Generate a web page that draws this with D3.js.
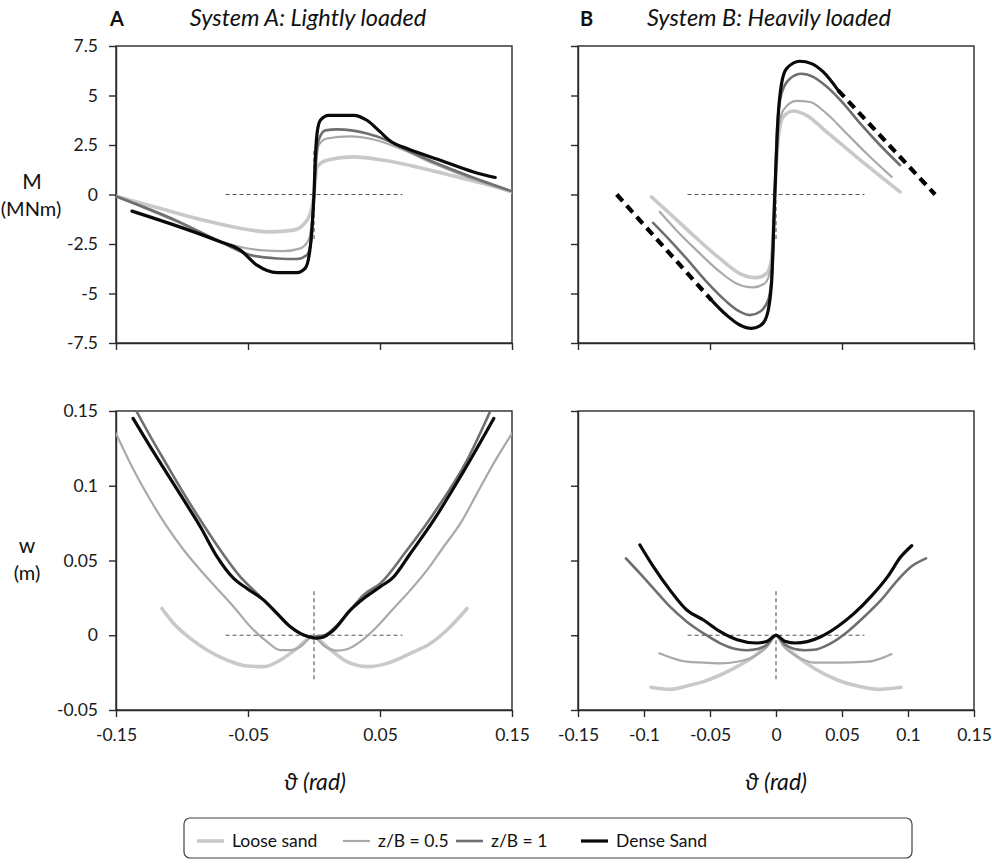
<!DOCTYPE html>
<html><head><meta charset="utf-8">
<script src="https://cdn.jsdelivr.net/npm/d3@7"></script>
<style>
html,body{margin:0;padding:0;background:#fff;}
svg{display:block;font-family:Lato,"Open Sans",sans-serif;}
</style></head>
<body>
<svg id="c" width="992" height="866"></svg>
<script>
// ---------------- DATA ----------------
const seriesNames = ["Loose sand", "z/B = 0.5", "z/B = 1", "Dense Sand"];
const panelTitles = ["System A: Lightly loaded", "System B: Heavily loaded"];
const panelLetters = ["A", "B"];

const mTicks = [-7.5, -5, -2.5, 0, 2.5, 5, 7.5];
const mTickLabels = ["-7.5", "-5", "-2.5", "0", "2.5", "5", "7.5"];
const wTicks = [-0.05, 0, 0.05, 0.1, 0.15];
const wTickLabels = ["-0.05", "0", "0.05", "0.1", "0.15"];
const xTicksA = [-0.15, -0.05, 0.05, 0.15];
const xTickLabelsA = ["-0.15", "-0.05", "0.05", "0.15"];
const xTicksB = [-0.15, -0.1, -0.05, 0, 0.05, 0.1, 0.15];
const xTickLabelsB = ["-0.15", "-0.1", "-0.05", "0", "0.05", "0.1", "0.15"];

// System A : moment M (MNm) vs rotation (rad)
const mA_loose = [[-0.15,-0.09],[-0.1164,-0.71],[-0.0786,-1.38],[-0.0331,-1.89],[-0.0155,-1.8],[-0.0053,-1.3],[-0.0015,-0.62],[0,0],[0.0008,0.6],[0.0023,1.39],[0.0098,1.73],[0.030,1.9],[0.0528,1.73],[0.078,1.39],[0.1033,0.97],[0.1285,0.55],[0.15,0.13]];
const mA_zb05 = [[-0.15,-0.09],[-0.1038,-1.38],[-0.071,-2.36],[-0.0407,-2.81],[-0.023,-2.86],[-0.0104,-2.72],[-0.0041,-2.3],[-0.0015,-1.3],[0,0],[0.0015,1.4],[0.0035,2.49],[0.0098,2.83],[0.0275,2.94],[0.0452,2.78],[0.0654,2.32],[0.0906,1.56],[0.1159,0.89],[0.15,0.15]];
const mA_zb1 = [[-0.15,-0.09],[-0.1038,-1.33],[-0.071,-2.38],[-0.0483,-3.06],[-0.028,-3.23],[-0.0129,-3.26],[-0.0053,-3.06],[-0.002,-2.3],[0,0],[0.0015,1.8],[0.0035,2.74],[0.0086,3.24],[0.0174,3.29],[0.0401,3.08],[0.0553,2.74],[0.0654,2.4],[0.0906,1.64],[0.1159,0.97],[0.15,0.16]];
const mA_dense = [[-0.1379,-0.84],[-0.071,-2.39],[-0.0558,-2.81],[-0.0432,-3.57],[-0.028,-3.95],[-0.0129,-3.95],[-0.0066,-3.72],[-0.0028,-2.64],[-0.0008,-0.95],[0,0],[0.0008,1.5],[0.0023,3.08],[0.0048,3.75],[0.0111,4.0],[0.030,4.0],[0.0401,3.75],[0.0502,3.16],[0.0578,2.7],[0.0705,2.32],[0.0957,1.73],[0.1209,1.14],[0.1373,0.86]];

// System B : moment
const mB_loose = [[-0.0944,-0.12],[-0.0805,-0.96],[-0.0628,-2.05],[-0.0426,-3.23],[-0.0274,-3.99],[-0.0148,-4.2],[-0.0072,-3.99],[-0.0034,-3.31],[-0.0009,0],[0.0016,2.74],[0.0054,3.92],[0.013,4.22],[0.0231,4.0],[0.0383,3.16],[0.0535,2.32],[0.0686,1.48],[0.094,0.13]];
const mB_zb05 = [[-0.0881,-0.87],[-0.0755,-1.8],[-0.0603,-2.81],[-0.0426,-3.9],[-0.03,-4.49],[-0.0173,-4.69],[-0.0085,-4.49],[-0.0042,-3.82],[-0.0009,0],[0.0016,3.08],[0.0054,4.25],[0.0155,4.73],[0.0257,4.67],[0.0383,4.09],[0.0535,3.08],[0.0686,2.07],[0.0876,0.89]];
const mB_zb1 = [[-0.0931,-1.43],[-0.0805,-2.3],[-0.0679,-3.23],[-0.0527,-4.4],[-0.0375,-5.41],[-0.0274,-5.92],[-0.0198,-6.09],[-0.0122,-5.92],[-0.0059,-5.33],[-0.0027,-3.65],[-0.0009,0],[0.0009,3.41],[0.0042,5.1],[0.0105,5.85],[0.0193,6.1],[0.0282,5.94],[0.0383,5.45],[0.051,4.6],[0.0636,3.6],[0.0787,2.5],[0.094,1.48]];
const mB_dense = [[-0.0489,-5.33],[-0.0375,-6.09],[-0.0274,-6.59],[-0.0186,-6.76],[-0.0122,-6.64],[-0.0072,-6.17],[-0.0034,-4.49],[-0.0009,0],[0.0016,3.92],[0.0042,5.6],[0.008,6.36],[0.018,6.73],[0.0269,6.61],[0.0358,6.19],[0.0471,5.26]];
const mB_denseExtLeft = [[-0.1207,0],[-0.0489,-5.33]];
const mB_denseExtRight = [[0.0471,5.26],[0.1205,0]];

// System A : settlement w (m)
const wA_loose = [[-0.1152,0.0179],[-0.1063,0.0079],[-0.0937,-0.0021],[-0.0811,-0.0099],[-0.066,-0.0166],[-0.0508,-0.0206],[-0.0381,-0.021],[-0.0255,-0.0166],[-0.0129,-0.0088],[-0.001,-0.001],[0.0111,-0.0088],[0.025,-0.0177],[0.0401,-0.021],[0.0553,-0.0188],[0.073,-0.0121],[0.0881,-0.0055],[0.1033,0.0057],[0.1159,0.0179]];
const wA_zb05 = [[-0.15,0.135],[-0.1366,0.1105],[-0.124,0.0905],[-0.1114,0.0726],[-0.0987,0.057],[-0.0861,0.0436],[-0.0735,0.0313],[-0.0609,0.0191],[-0.0482,0.0057],[-0.0356,-0.0043],[-0.0255,-0.01],[-0.0179,-0.01],[-0.0104,-0.0077],[-0.001,-0.001],[0.0086,-0.0077],[0.0174,-0.0103],[0.025,-0.0094],[0.0351,-0.0043],[0.0477,0.0057],[0.0604,0.018],[0.073,0.0302],[0.0856,0.0436],[0.0982,0.0592],[0.1109,0.0748],[0.1235,0.0949],[0.1361,0.115],[0.15,0.135]];
const wA_zb1 = [[-0.1346,0.15],[-0.124,0.133],[-0.1114,0.1139],[-0.0987,0.0949],[-0.0861,0.0771],[-0.071,0.057],[-0.0558,0.0391],[-0.0432,0.028],[-0.0306,0.0168],[-0.0179,0.0057],[-0.0078,0],[-0.001,-0.001],[0.0078,0],[0.0149,0.0046],[0.0275,0.0168],[0.0376,0.027],[0.0502,0.0346],[0.0705,0.057],[0.0907,0.0815],[0.116,0.1172],[0.1336,0.15]];
const wA_dense = [[-0.1371,0.1451],[-0.124,0.126],[-0.1114,0.1083],[-0.0987,0.0905],[-0.0861,0.0726],[-0.0735,0.0526],[-0.0609,0.038],[-0.0508,0.0313],[-0.0381,0.0235],[-0.028,0.0146],[-0.0179,0.0057],[-0.0104,0.0013],[-0.004,-0.001],[0.001,-0.002],[0.006,-0.0015],[0.0149,0.0035],[0.0275,0.0168],[0.0376,0.0246],[0.0502,0.0324],[0.0604,0.0391],[0.073,0.0547],[0.0907,0.077],[0.1109,0.106],[0.1362,0.145]];

// System B : settlement
const wB_loose = [[-0.0947,-0.0348],[-0.0803,-0.0362],[-0.0676,-0.0339],[-0.0549,-0.031],[-0.0422,-0.0266],[-0.0295,-0.021],[-0.0169,-0.0143],[-0.0067,-0.0065],[0,-0.0005],[0.006,-0.0065],[0.0161,-0.0143],[0.0288,-0.0221],[0.0465,-0.0299],[0.0617,-0.0339],[0.0769,-0.0362],[0.0947,-0.0348]];
const wB_zb05 = [[-0.0884,-0.0121],[-0.0803,-0.0148],[-0.0676,-0.0177],[-0.0549,-0.0183],[-0.0422,-0.0188],[-0.0295,-0.0177],[-0.0169,-0.0143],[-0.0067,-0.0076],[0,-0.0005],[0.006,-0.0076],[0.0161,-0.0143],[0.0288,-0.0183],[0.0465,-0.0183],[0.0694,-0.0177],[0.0795,-0.0155],[0.0876,-0.0126]];
const wB_zb1 = [[-0.1137,0.0514],[-0.1031,0.0414],[-0.0929,0.0314],[-0.0803,0.0191],[-0.0676,0.0091],[-0.0549,0.0013],[-0.0422,-0.0054],[-0.0295,-0.0094],[-0.022,-0.0100],[-0.0140,-0.0092],[-0.0067,-0.0062],[0,0],[0.0067,-0.0062],[0.0140,-0.0092],[0.022,-0.0100],[0.0288,-0.0097],[0.0415,-0.0054],[0.0542,0.0024],[0.0668,0.0124],[0.0795,0.0235],[0.0922,0.0369],[0.1023,0.0458],[0.1137,0.0514]];
const wB_dense = [[-0.1031,0.0604],[-0.0929,0.0459],[-0.0803,0.0302],[-0.0676,0.0169],[-0.0549,0.0102],[-0.0422,0.0024],[-0.0295,-0.0030],[-0.0146,-0.0052],[-0.0067,-0.0040],[0,0],[0.0067,-0.0040],[0.0146,-0.0052],[0.0237,-0.0043],[0.0339,-0.001],[0.0465,0.0057],[0.0592,0.0146],[0.0719,0.0258],[0.0846,0.0392],[0.0947,0.0526],[0.1028,0.0599]];

// reference (dashed) guide lines
const guideM_h = [[-0.067,0],[0.067,0]];
const guideM_v = [[0,-2.25],[0,2.25]];
const guideW_h = [[-0.067,0],[0.067,0]];
const guideW_v = [[0,-0.0295],[0,0.0303]];

// ---------------- STYLE ----------------
const seriesStyle = [
  {color:"#c9c9c9", width:3.6},
  {color:"#a9a9a9", width:2.2},
  {color:"#6f6f6f", width:2.6},
  {color:"#0a0a0a", width:3.2}
];

const svg = d3.select("#c");
const xRangeL = [116, 512], xRangeR = [578, 974];
const yRangeTop = [343, 46], yRangeBot = [710, 411];

const panels = [
  {xr:xRangeL, yr:yRangeTop, ydom:[-7.5,7.5], yt:mTicks, ytl:mTickLabels, xt:xTicksA, xtl:null, series:[mA_loose,mA_zb05,mA_zb1,mA_dense], guides:[guideM_h,guideM_v], ext:[]},
  {xr:xRangeR, yr:yRangeTop, ydom:[-7.5,7.5], yt:mTicks, ytl:null, xt:xTicksA, xtl:null, series:[mB_loose,mB_zb05,mB_zb1,mB_dense], guides:[guideM_h,guideM_v], ext:[mB_denseExtLeft,mB_denseExtRight]},
  {xr:xRangeL, yr:yRangeBot, ydom:[-0.05,0.15], yt:wTicks, ytl:wTickLabels, xt:xTicksA, xtl:xTickLabelsA, series:[wA_loose,wA_zb05,wA_zb1,wA_dense], guides:[guideW_h,guideW_v], ext:[]},
  {xr:xRangeR, yr:yRangeBot, ydom:[-0.05,0.15], yt:wTicks, ytl:null, xt:xTicksB, xtl:xTickLabelsB, series:[wB_loose,wB_zb05,wB_zb1,wB_dense], guides:[guideW_h,guideW_v], ext:[]}
];

panels.forEach((p, pi) => {
  const x = d3.scaleLinear().domain([-0.15, 0.15]).range(p.xr);
  const y = d3.scaleLinear().domain(p.ydom).range(p.yr);
  const g = svg.append("g");
  const clipId = "clip" + pi;
  svg.append("defs").append("clipPath").attr("id", clipId)
    .append("rect").attr("x", p.xr[0]).attr("y", p.yr[1]).attr("width", p.xr[1]-p.xr[0]).attr("height", p.yr[0]-p.yr[1]);

  const ya = d3.axisLeft(y).tickValues(p.yt).tickSize(7).tickSizeOuter(0).tickPadding(11)
    .tickFormat((d,i) => p.ytl ? p.ytl[i] : "");
  const yg = g.append("g").attr("transform", `translate(${p.xr[0]},0)`).call(ya);
  const xa = d3.axisBottom(x).tickValues(p.xt).tickSize(7).tickSizeOuter(0).tickPadding(12)
    .tickFormat((d,i) => p.xtl ? p.xtl[i] : "");
  const xg = g.append("g").attr("transform", `translate(0,${p.yr[0]})`).call(xa);
  [yg, xg].forEach(a => {
    a.selectAll("path,line").attr("stroke", "#2a2a2a").attr("stroke-width", 1.4);
    a.selectAll("text").attr("font-size", 17.5).attr("fill", "#1a1a1a").attr("font-family", "Lato, 'Open Sans', sans-serif");
  });
  g.append("rect").attr("x", p.xr[0]).attr("y", p.yr[1]).attr("width", p.xr[1]-p.xr[0]).attr("height", p.yr[0]-p.yr[1])
    .attr("fill", "none").attr("stroke", "#2a2a2a").attr("stroke-width", 1.4);

  const line = d3.line().x(d => x(d[0])).y(d => y(d[1]));
  const curve = d3.line().x(d => x(d[0])).y(d => y(d[1])).curve(d3.curveMonotoneX);
  const plot = g.append("g").attr("clip-path", `url(#${clipId})`);

  p.guides.forEach(gd => {
    plot.append("path").attr("d", line(gd)).attr("fill", "none")
      .attr("stroke", "#555").attr("stroke-width", 1.1).attr("stroke-dasharray", "4,3");
  });
  p.series.forEach((s, si) => {
    plot.append("path").attr("d", curve(s)).attr("fill", "none")
      .attr("stroke", seriesStyle[si].color).attr("stroke-width", seriesStyle[si].width)
      .attr("stroke-linejoin", "round").attr("stroke-linecap", "round");
  });
  p.ext.forEach(e => {
    plot.append("path").attr("d", line(e)).attr("fill", "none")
      .attr("stroke", "#000").attr("stroke-width", 4.2).attr("stroke-dasharray", "9,6");
  });
});

// titles
const letterX = [110, 580];
const titleX = [308, 769];
const axisTitleX = [315, 776];
[0, 1].forEach(i => {
  svg.append("text").attr("x", letterX[i]).attr("y", 26).text(panelLetters[i])
    .attr("font-size", 20).attr("font-weight", "bold").attr("fill", "#111");
  svg.append("text").attr("x", titleX[i]).attr("y", 26).attr("text-anchor", "middle")
    .text(panelTitles[i]).attr("font-size", 23.5).attr("font-style", "italic").attr("fill", "#111");
  svg.append("text").attr("x", axisTitleX[i]).attr("y", 790).attr("text-anchor", "middle")
    .text("ϑ (rad)").attr("font-size", 23).attr("font-style", "italic").attr("fill", "#111");
});

// y axis labels
svg.append("text").attr("x", 32).attr("y", 189).attr("text-anchor", "middle").text("M").attr("font-size", 21).attr("fill", "#111");
svg.append("text").attr("x", 31).attr("y", 216).attr("text-anchor", "middle").text("(MNm)").attr("font-size", 20).attr("fill", "#111");
svg.append("text").attr("x", 27).attr("y", 553).attr("text-anchor", "middle").text("w").attr("font-size", 21).attr("fill", "#111");
svg.append("text").attr("x", 27).attr("y", 580).attr("text-anchor", "middle").text("(m)").attr("font-size", 20).attr("fill", "#111");

// legend
const lg = svg.append("g");
lg.append("rect").attr("x", 184).attr("y", 818).attr("width", 728).attr("height", 40).attr("rx", 6)
  .attr("fill", "#fff").attr("stroke", "#444").attr("stroke-width", 1.2);
const legendX = [197, 343, 456, 581];
seriesNames.forEach((n, i) => {
  lg.append("line").attr("x1", legendX[i]).attr("x2", legendX[i] + 27).attr("y1", 841).attr("y2", 841)
    .attr("stroke", seriesStyle[i].color).attr("stroke-width", seriesStyle[i].width);
  lg.append("text").attr("x", legendX[i] + 35).attr("y", 847).text(n).attr("font-size", 17.5).attr("fill", "#111");
});
</script>
</body></html>
